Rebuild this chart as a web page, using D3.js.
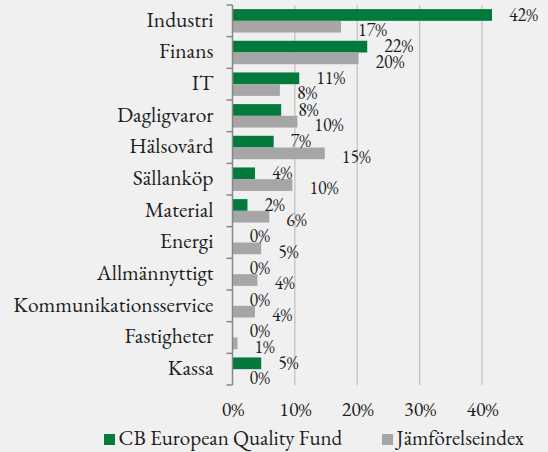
<!DOCTYPE html>
<html>
<head>
<meta charset="utf-8">
<script src="https://cdn.jsdelivr.net/npm/d3@7"></script>
<style>
  body { margin: 0; background: #f0f0f0; }
  svg { display: block; }
</style>
</head>
<body>
<div id="chart"></div>
<script>
// Sector allocation: fund vs benchmark (percent of portfolio)
const categories = ["Industri", "Finans", "IT", "Dagligvaror", "Hälsovård", "Sällanköp",
  "Material", "Energi", "Allmännyttigt", "Kommunikationsservice", "Fastigheter", "Kassa"];
const fundValues = [41.6, 21.6, 10.7, 7.8, 6.6, 3.6, 2.4, 0, 0, 0, 0, 4.6];
const indexValues = [17.4, 20.2, 7.6, 10.4, 14.8, 9.6, 5.9, 4.6, 4.0, 3.6, 0.8, 0];
const seriesNames = ["CB European Quality Fund", "Jämförelseindex"];
const seriesColors = ["#037a3c", "#a6a6a6"];
const xTicks = [0, 10, 20, 30, 40];

const width = 548, height = 452;
const plotLeft = 232.5, plotTop = 5, plotBottom = 385;
const font = "'EB Garamond', 'Liberation Serif', serif";
const textColor = "#1e1e1e";

const svg = d3.select("#chart").append("svg")
  .attr("width", width)
  .attr("height", height)
  .style("background", "#f0f0f0");

const x = d3.scaleLinear()
  .domain([0, 40])
  .range([plotLeft, 482]);

const y = d3.scaleBand()
  .domain(categories)
  .range([plotTop, plotBottom])
  .padding(0);

const ySub = d3.scaleBand()
  .domain(seriesNames)
  .range([0, y.bandwidth()])
  .paddingInner(0)
  .paddingOuter(0.35);

// vertical gridlines
svg.append("g")
  .selectAll("line")
  .data(xTicks.filter(d => d > 0))
  .enter().append("line")
  .attr("x1", d => x(d))
  .attr("x2", d => x(d))
  .attr("y1", plotTop)
  .attr("y2", plotBottom)
  .attr("stroke", "#c3c3c3")
  .attr("stroke-width", 1.3);

// build rows for bars
const rows = categories.map((c, i) => ({
  category: c,
  values: [
    { series: seriesNames[0], value: fundValues[i], color: seriesColors[0] },
    { series: seriesNames[1], value: indexValues[i], color: seriesColors[1] }
  ]
}));

const group = svg.append("g")
  .selectAll("g")
  .data(rows)
  .enter().append("g")
  .attr("transform", d => "translate(0," + y(d.category) + ")");

group.selectAll("rect")
  .data(d => d.values)
  .enter().append("rect")
  .attr("x", x(0))
  .attr("y", d => ySub(d.series))
  .attr("width", d => x(d.value) - x(0))
  .attr("height", ySub.bandwidth())
  .attr("fill", d => d.color);

// value labels, outside end
const fmt = d3.format(".0f");
group.selectAll("text")
  .data(d => d.values)
  .enter().append("text")
  .attr("x", d => x(d.value) + 17)
  .attr("y", (d, i) => ySub(d.series) + ySub.bandwidth() / 2 + (i === 0 ? -0.5 : 3))
  .attr("dy", "0.35em")
  .style("font-family", font)
  .style("font-size", "18px")
  .style("fill", textColor)
  .text(d => fmt(d.value) + "%");

// left axis: category labels
const yAxis = svg.append("g")
  .attr("transform", "translate(" + plotLeft + ",0)")
  .call(d3.axisLeft(y).tickSize(0).tickPadding(19));
yAxis.select(".domain").remove();
yAxis.selectAll("text")
  .style("font-family", font)
  .style("font-size", "21.5px")
  .style("fill", textColor)
  .attr("dy", "0.27em");

// axis line and tick marks at band boundaries
svg.append("line")
  .attr("x1", plotLeft).attr("x2", plotLeft)
  .attr("y1", plotTop).attr("y2", plotBottom)
  .attr("stroke", "#868686")
  .attr("stroke-width", 1.5);
svg.append("g")
  .selectAll("line")
  .data(categories.map(c => y(c)).concat([plotBottom]))
  .enter().append("line")
  .attr("x1", plotLeft - 6).attr("x2", plotLeft)
  .attr("y1", d => d).attr("y2", d => d)
  .attr("stroke", "#868686")
  .attr("stroke-width", 1.5);

// bottom axis: percent ticks
const xAxis = svg.append("g")
  .attr("transform", "translate(0," + plotBottom + ")")
  .call(d3.axisBottom(x).tickValues(xTicks).tickSize(0).tickPadding(17).tickFormat(d => d + "%"));
xAxis.select(".domain").remove();
xAxis.selectAll("text")
  .style("font-family", font)
  .style("font-size", "20px")
  .style("fill", textColor);

// legend
const legendItems = [
  { name: seriesNames[0], color: seriesColors[0], x: 104 },
  { name: seriesNames[1], color: seriesColors[1], x: 382 }
];
const legend = svg.append("g")
  .selectAll("g")
  .data(legendItems)
  .enter().append("g")
  .attr("transform", d => "translate(" + d.x + ",445)");
legend.append("rect")
  .attr("x", 0)
  .attr("y", -11)
  .attr("width", 11)
  .attr("height", 11)
  .attr("fill", d => d.color);
legend.append("text")
  .attr("x", 14.5)
  .attr("y", 0)
  .style("font-family", font)
  .style("font-size", "21px")
  .style("fill", textColor)
  .text(d => d.name);
</script>
</body>
</html>
